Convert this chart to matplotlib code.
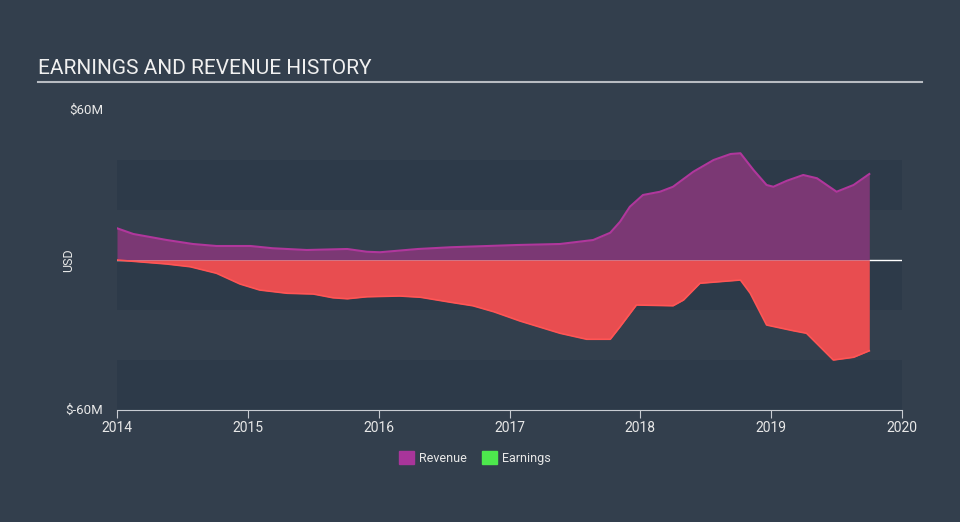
import numpy as np
import matplotlib.pyplot as plt
from matplotlib.patches import Patch

plt.rcParams['font.family'] = ['Roboto', 'DejaVu Sans']

# revenue (USD millions)
rev_t = [2014.0, 2014.125, 2014.38, 2014.58, 2014.76, 2015.02, 2015.19, 2015.45, 2015.76,
         2015.91, 2016.01, 2016.3, 2016.55, 2017.06, 2017.386, 2017.64, 2017.77, 2017.845,
         2017.92, 2018.02, 2018.15, 2018.25, 2018.405, 2018.56, 2018.69, 2018.765, 2018.865,
         2018.965, 2019.017, 2019.12, 2019.245, 2019.35, 2019.5, 2019.63, 2019.75]
rev_v = [12.7, 10.4, 8.0, 6.4, 5.6, 5.6, 4.7, 4.0, 4.4,
         3.3, 3.1, 4.4, 5.1, 6.0, 6.4, 8.0, 10.9, 15.3,
         21.3, 26.0, 27.3, 29.3, 35.3, 40.0, 42.4, 42.7, 36.0,
         30.0, 29.3, 31.7, 34.0, 32.7, 27.3, 30.0, 34.4]

# earnings (USD millions)
earn_t = [2014.0, 2014.38, 2014.56, 2014.76, 2014.94, 2015.09, 2015.30, 2015.50, 2015.65,
          2015.76, 2015.91, 2016.16, 2016.32, 2016.55, 2016.72, 2016.88, 2017.08, 2017.386,
          2017.59, 2017.77, 2017.845, 2017.97, 2018.25, 2018.33, 2018.456, 2018.765, 2018.84,
          2018.965, 2019.17, 2019.27, 2019.475, 2019.63, 2019.75]
earn_v = [0.0, -1.6, -2.7, -5.3, -9.6, -12.0, -13.3, -13.6, -15.1,
          -15.5, -14.7, -14.4, -14.9, -16.9, -18.3, -20.7, -24.4, -29.3,
          -31.7, -31.7, -26.7, -18.0, -18.3, -16.0, -9.3, -8.0, -13.3,
          -26.0, -28.3, -29.3, -40.0, -38.9, -36.3]

years = [2014, 2015, 2016, 2017, 2018, 2019, 2020]

bg = '#333f4d'
fig = plt.figure(figsize=(9.6, 5.22), dpi=100, facecolor=bg)
ax = fig.add_axes([117/960, 1-410/522, 785/960, 300/522])
ax.set_facecolor(bg)

# alternating bands
for lo in (20, -20, -60):
    ax.axhspan(lo, lo+20, color='#2d3a49', zorder=0, lw=0)

ax.axhline(0, color='white', lw=1, zorder=1)
ax.fill_between(rev_t, rev_v, 0, color='#7b3874', lw=0, zorder=2)
ax.plot(rev_t, rev_v, color='#b0379c', lw=1.5, zorder=3, solid_joinstyle='round')
ax.fill_between(earn_t, earn_v, 0, color='#e84d50', lw=0, zorder=2)
ax.plot(earn_t, earn_v, color='#ff5555', lw=1.2, zorder=3, solid_joinstyle='round')

ax.set_xlim(2014, 2020)
ax.set_ylim(-60, 60)
ax.set_xticks(years)
ax.set_xticklabels([str(y) for y in years], color='#e8e8e8', fontsize=10)
ax.set_yticks([])
for s in ['top', 'right', 'left']:
    ax.spines[s].set_visible(False)
ax.spines['bottom'].set_color('#c8ccd2')
ax.tick_params(axis='x', colors='#c8ccd2', length=6, pad=2, labelcolor='#e8e8e8')

fig.text(103/960, 1-110/522, '$60M', color='#e8e8e8', fontsize=9.5, ha='right', va='center')
fig.text(103/960, 1-410/522, '$-60M', color='#e8e8e8', fontsize=9.5, ha='right', va='center')
fig.text(69/960, 1-260/522, 'USD', color='#e8e8e8', fontsize=9, rotation=90, ha='center', va='center')

fig.text(38/960, 1-68/522, 'EARNINGS AND REVENUE HISTORY', color='#f0f0f0', fontsize=15, ha='left', va='center')
fig.add_artist(plt.Line2D([38/960, 922/960], [1-82/522, 1-82/522], color='#b8bcc2', lw=1.5))

handles = [Patch(color='#a8359a', label='Revenue'), Patch(color='#4de84d', label='Earnings')]
fig.legend(handles=handles, loc='center', bbox_to_anchor=(475/960, 1-458/522), ncol=2, frameon=False,
           fontsize=9, labelcolor='#e8e8e8', handlelength=1.2, handleheight=1.2, columnspacing=1.2, handletextpad=0.4)

fig.savefig('out.png', dpi=100, facecolor=bg)
